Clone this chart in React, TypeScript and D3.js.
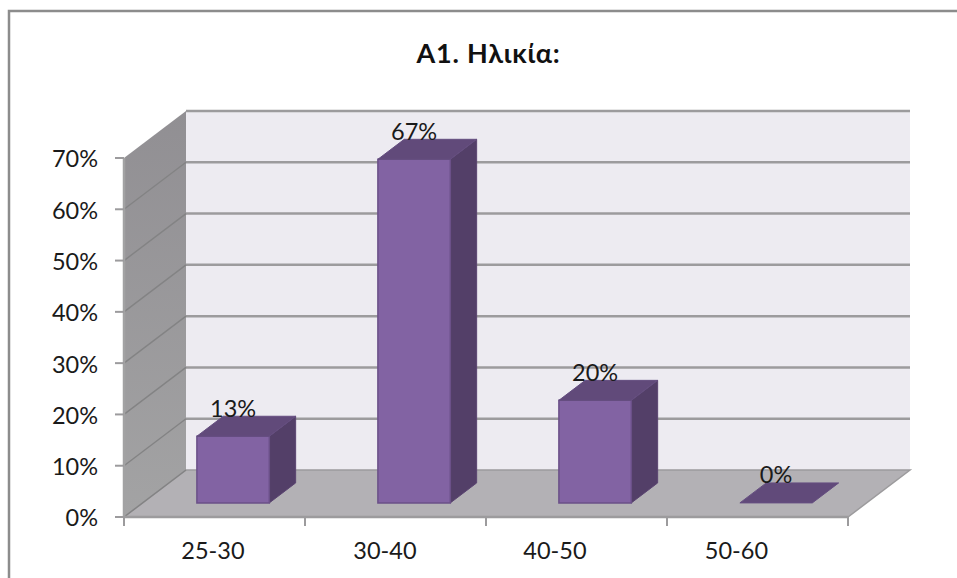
import React from "react";
import * as d3 from "d3";

const titleText = "Α1. Ηλικία:";
const ageGroups = ["25-30", "30-40", "40-50", "50-60"];
const shares = [13, 67, 20, 0];
const yTicks = [0, 10, 20, 30, 40, 50, 60, 70];

const FONT = "Lato, 'Open Sans', sans-serif";
const GRID = "#9c9b9d";
const LABEL_SIZE = 23.5;
// Category captions drift left of their band centres as they go along the axis.
const CAPTION_SHIFT = [-1.5, -10.5, -21.5, -21];

// Front plane of the 3D box, plus the shift that carries a point to the back wall.
const x = d3.scaleBand<string>().domain(ageGroups).range([124, 848]).paddingInner(0.6).paddingOuter(0.3);
const xEdges = d3.scaleLinear().domain([0, ageGroups.length]).range([124, 848]);
const y = d3.scaleLinear().domain([0, 70]).range([517, 158]);
const depthX = d3.scaleLinear().domain([0, 1]).range([0, 62]);
const depthY = d3.scaleLinear().domain([0, 1]).range([0, -47]);

const BAR_NEAR = 0.3;
const BAR_FAR = 0.725;

const pt = (px: number, v: number, d: number): [number, number] => [px + depthX(d), y(v) + depthY(d)];
const poly = (pts: [number, number][]) => d3.line()(pts)! + "Z";

export default function App() {
  const x0 = x.range()[0];
  const x1 = x.range()[1];
  return (
    <svg width={957} height={578} style={{ position: "absolute", left: 0, top: 0, background: "#fff" }} fontFamily={FONT}>
      <defs>
        <linearGradient id="sideWall" x1="0" y1="0" x2="0" y2="1">
          <stop offset="0" stopColor="#918f93" />
          <stop offset="1" stopColor="#a3a3a4" />
        </linearGradient>
      </defs>

      {/* outer chart border */}
      <path d="M9,578V11H957" fill="none" stroke="#8c8c8c" strokeWidth={2.5} />

      <text x={488.5} y={63} textAnchor="middle" fontSize={27} letterSpacing={0.8} fontWeight={700} fill="#111">{titleText}</text>

      {/* walls and floor */}
      <path d={poly([pt(x0, 0, 1), pt(x1, 0, 1), pt(x1, 70, 1), pt(x0, 70, 1)])} fill="#edebf1" />
      <path d={poly([pt(x0, 0, 0), pt(x0, 70, 0), pt(x0, 70, 1), pt(x0, 0, 1)])} fill="url(#sideWall)" />
      <path d={poly([pt(x0, 0, 0), pt(x1, 0, 0), pt(x1, 0, 1), pt(x0, 0, 1)])} fill="#b3b1b5" stroke="#9c9b9d" strokeWidth={1.5} />

      {/* gridlines wrap from the side wall onto the back wall */}
      {yTicks.map((t) => (
        <g key={t} fill="none">
          {t > 0 && <path d={d3.line()([pt(x0, t, 1), pt(x1, t, 1)])!} stroke={GRID} strokeWidth={2.5} />}
          {t < 70 && <path d={d3.line()([pt(x0, t, 0), pt(x0, t, 1)])!} stroke="#838384" strokeWidth={1.4} />}
        </g>
      ))}

      {/* y axis */}
      <path d={`M${x0},${y(0)}V${y(70)}`} stroke="#a2a2a3" strokeWidth={2.5} />
      {yTicks.map((t) => (
        <g key={t}>
          <line x1={x0 - 9} x2={x0} y1={y(t)} y2={y(t)} stroke={GRID} strokeWidth={2} />
          <text x={98} y={y(t) + 1} dy="0.36em" textAnchor="end" fontSize={LABEL_SIZE} fill="#1a1a1a">{t}%</text>
        </g>
      ))}

      {/* x axis */}
      <path d={`M${x0},${y(0)}H${x1}`} stroke={GRID} strokeWidth={2.5} />
      {d3.range(ageGroups.length + 1).map((i) => (
        <line key={i} x1={xEdges(i)} x2={xEdges(i)} y1={y(0)} y2={y(0) + 9} stroke={GRID} strokeWidth={2} />
      ))}
      {ageGroups.map((g, i) => (
        <text key={g} x={xEdges(i + 0.5) + CAPTION_SHIFT[i]} y={559} textAnchor="middle" fontSize={LABEL_SIZE} fill="#1a1a1a">{g}</text>
      ))}

      {/* bars */}
      {ageGroups.map((g, i) => {
        const l = x(g)!;
        const r = l + x.bandwidth();
        const v = shares[i];
        return (
          <g key={g}>
            {v > 0 && (
              <>
                <path d={poly([pt(r, 0, BAR_NEAR), pt(r, 0, BAR_FAR), pt(r, v, BAR_FAR), pt(r, v, BAR_NEAR)])} fill="#533f68" stroke="#5b4572" strokeWidth={1} />
                <path d={poly([pt(l, 0, BAR_NEAR), pt(r, 0, BAR_NEAR), pt(r, v, BAR_NEAR), pt(l, v, BAR_NEAR)])} fill="#8263a3" stroke="#6b5088" strokeWidth={1.5} />
              </>
            )}
            <path d={poly([pt(l, v, BAR_NEAR), pt(r, v, BAR_NEAR), pt(r, v, BAR_FAR), pt(l, v, BAR_FAR)])} fill="#614a7a" stroke="#654e80" strokeWidth={1} />
          </g>
        );
      })}

      {/* value labels are centred over each bar's front face */}
      {ageGroups.map((g, i) => {
        const [cx, cy] = pt(x(g)! + x.bandwidth() / 2, shares[i], BAR_NEAR);
        return (
          <text key={g} x={cx} y={cy - 19.5} textAnchor="middle" fontSize={LABEL_SIZE} fill="#1a1a1a">{shares[i]}%</text>
        );
      })}
    </svg>
  );
}
